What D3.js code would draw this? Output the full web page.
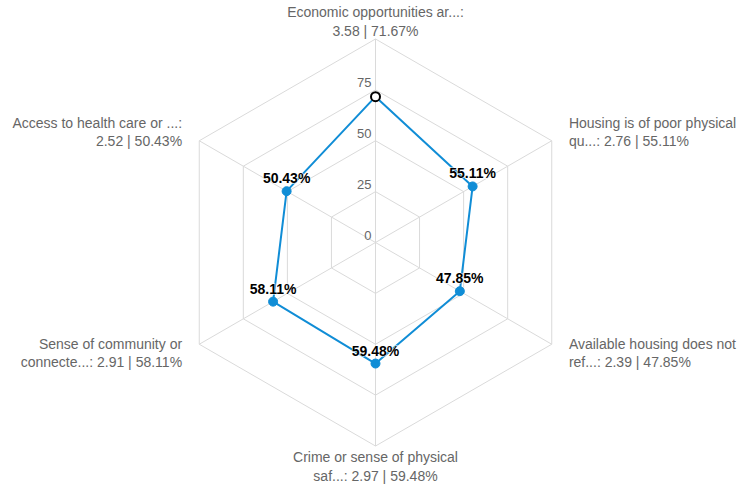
<!DOCTYPE html>
<html>
<head>
<meta charset="utf-8">
<script src="https://cdn.jsdelivr.net/npm/d3@7"></script>
<style>
  body { margin: 0; background: #fff; }
  svg { display: block; font-family: "Liberation Sans", Arial, sans-serif; }
</style>
</head>
<body>
<div id="chart"></div>
<script>
// data
var categories = [
	"Economic opportunities ar...",
	"Housing is of poor physical qu...",
	"Available housing does not ref...",
	"Crime or sense of physical saf...",
	"Sense of community or connecte...",
	"Access to health care or ..."
];
var scores = [3.58, 2.76, 2.39, 2.97, 2.91, 2.52];
var percents = [71.67, 55.11, 47.85, 59.48, 58.11, 50.43];
var ringTicks = [0, 25, 50, 75, 100];
var ringLabels = ["0", "25", "50", "75"];
var highlightIndex = 0;

var width = 738, height = 488;
var cx = 375.5, cy = 242.5, radius = 203.5;
var lineColor = "#108dd6";
var gridColor = "#dadada";

var svg = d3.select("#chart").append("svg")
	.attr("width", width)
	.attr("height", height);

var rScale = d3.scaleLinear().domain([0, 100]).range([0, radius]);
var aScale = d3.scaleLinear().domain([0, categories.length]).range([0, 2 * Math.PI]);

function pt(i, v) {
	var a = aScale(i);
	return [cx + rScale(v) * Math.sin(a), cy - rScale(v) * Math.cos(a)];
}

var g = svg.append("g");

// rings
var idx = d3.range(categories.length);
g.selectAll("path.ring")
	.data(ringTicks.filter(function(d) { return d > 0; }))
	.enter().append("path")
	.attr("class", "ring")
	.attr("d", function(t) {
		return d3.line()(idx.map(function(i) { return pt(i, t); })) + "Z";
	})
	.attr("fill", "none")
	.attr("stroke", gridColor)
	.attr("stroke-width", 1);

// spokes
g.selectAll("line.spoke")
	.data(idx)
	.enter().append("line")
	.attr("class", "spoke")
	.attr("x1", cx).attr("y1", cy)
	.attr("x2", function(i) { return pt(i, 100)[0]; })
	.attr("y2", function(i) { return pt(i, 100)[1]; })
	.attr("stroke", gridColor)
	.attr("stroke-width", 1);

// ring labels
g.selectAll("text.ringlabel")
	.data(ringLabels)
	.enter().append("text")
	.attr("class", "ringlabel")
	.attr("x", cx - 4)
	.attr("y", function(d) { return cy - rScale(+d) - 3; })
	.attr("text-anchor", "end")
	.attr("font-size", "13px")
	.attr("fill", "#666")
	.text(function(d) { return d; });

// series line
var points = percents.map(function(v, i) { return pt(i, v); });
g.append("path")
	.attr("d", d3.line()(points) + "Z")
	.attr("fill", "none")
	.attr("stroke", lineColor)
	.attr("stroke-width", 2)
	.attr("stroke-linejoin", "round");

// markers
g.selectAll("circle.marker")
	.data(points)
	.enter().append("circle")
	.attr("class", "marker")
	.attr("cx", function(d) { return d[0]; })
	.attr("cy", function(d) { return d[1]; })
	.attr("r", function(d, i) { return i === highlightIndex ? 4.5 : 4.5; })
	.attr("fill", function(d, i) { return i === highlightIndex ? "#fff" : lineColor; })
	.attr("stroke", function(d, i) { return i === highlightIndex ? "#000" : lineColor; })
	.attr("stroke-width", function(d, i) { return i === highlightIndex ? 2 : 1; });

// data labels
g.selectAll("text.dlabel")
	.data(points)
	.enter().append("text")
	.filter(function(d, i) { return i !== highlightIndex; })
	.attr("class", "dlabel")
	.attr("x", function(d) { return d[0]; })
	.attr("y", function(d) { return d[1] - 8; })
	.attr("text-anchor", "middle")
	.attr("font-size", "14px")
	.attr("font-weight", "bold")
	.attr("fill", "#000")
	.attr("stroke", "#fff")
	.attr("stroke-width", 1)
	.attr("paint-order", "stroke")
	.text(function(d, i) { return percents[i] + "%"; });
g.selectAll("text.dlabel").text(function(d) {
	return percents[points.indexOf(d)].toFixed(2) + "%";
});

// axis labels
var wrapWidth = 186, lineHeight = 18.5, labelR = 221;
var measure = svg.append("text").attr("font-size", "14px");
function wrap(str) {
	var words = str.split(" "), lines = [], cur = "";
	words.forEach(function(w) {
		var test = cur ? cur + " " + w : w;
		measure.text(test);
		if (cur && measure.node().getComputedTextLength() > wrapWidth) {
			lines.push(cur);
			cur = w;
		} else {
			cur = test;
		}
	});
	if (cur) lines.push(cur);
	return lines;
}

idx.forEach(function(i) {
	var a = aScale(i);
	var sx = Math.sin(a), cyy = -Math.cos(a);
	var p = [cx + labelR * sx, cy + labelR * cyy];
	var anchor = Math.abs(sx) < 0.01 ? "middle" : (sx > 0 ? "start" : "end");
	var dx = anchor === "start" ? 2 : (anchor === "end" ? -2 : 0);
	var lines = wrap(categories[i] + ": " + scores[i].toFixed(2) + " | " + percents[i].toFixed(2) + "%");
	var extra = (i === 3) ? 3 : 0;
	var y0 = p[1] + extra - (lines.length - 1) * lineHeight / 2 + 5;
	var t = svg.append("text")
		.attr("class", "axislabel")
		.attr("text-anchor", anchor)
		.attr("font-size", "14px")
		.attr("fill", "#666");
	lines.forEach(function(l, k) {
		t.append("tspan")
			.attr("x", p[0] + dx)
			.attr("y", y0 + k * lineHeight)
			.text(l);
	});
});
measure.remove();
</script>
</body>
</html>
